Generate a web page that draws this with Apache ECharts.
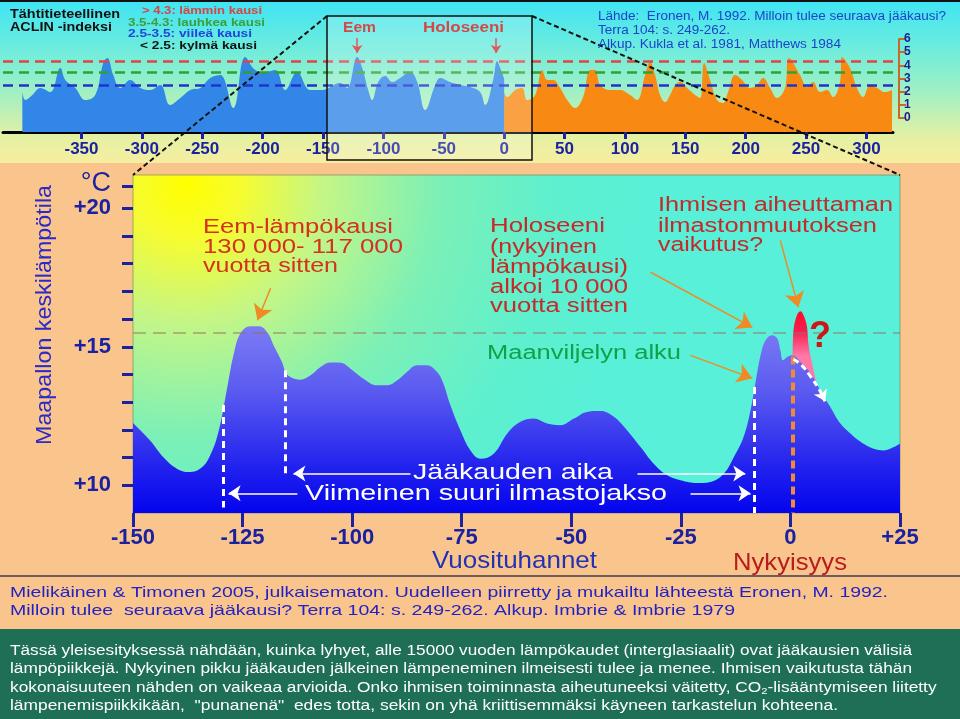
<!DOCTYPE html>
<html><head><meta charset="utf-8">
<script src="https://cdn.jsdelivr.net/npm/echarts@6/dist/echarts.min.js"></script>
<style>html,body{margin:0;padding:0;background:#fac58d}#c{width:960px;height:719px}</style>
</head><body><div id="c"></div>
<script>
// ---------- DATA ----------
// Top panel: ACLIN index, [thousand years, index value]
const topBlueData = [[-399,1.97],[-396.5,1.37],[-390.7,1.75],[-384.1,2.28],[-375.8,1.97],[-367.5,3.8],[-363.4,2.89],[-355.1,2.28],[-346.9,1.37],[-338.6,1.75],[-332,4.18],[-328.6,4.56],[-323.7,3.26],[-317.9,2.28],[-309.6,2.89],[-301.3,2.28],[-293,2.13],[-284.8,2.51],[-276.5,0.99],[-268.2,1.52],[-259.9,2.13],[-251.7,2.28],[-243.4,3.04],[-235.1,3.26],[-224.3,0.76],[-214.4,4.63],[-206.1,3.64],[-197.8,3.49],[-189.6,3.64],[-181.3,2.13],[-171.4,3.49],[-160.6,2.13],[-150.7,2.13],[-135.8,2.66],[-130,2.28],[-121.7,4.63],[-117.5,3.8],[-112.6,2.13],[-109.3,1.37],[-104.3,2.73],[-98.5,3.19],[-92.7,2.73],[-86.1,3.04],[-77.8,3.49],[-72,2.73],[-65.4,0.61],[-57.1,2.51],[-53,3.04],[-44.7,2.73],[-36.4,2.51],[-28.1,2.35],[-19.9,1.97],[-15.7,0.99],[-9.1,2.89],[-5.8,4.33],[-3.3,3.8],[0,3.0]];
const topOrangeData = [[0,1.97],[2.5,1.59],[9.1,2.13],[14.9,2.28],[19,1.37],[25.7,1.75],[31.5,3.64],[35.6,2.89],[40.6,2.89],[46.4,2.28],[52.2,1.37],[58.8,0.76],[65.4,1.59],[71.2,3.64],[75.3,3.64],[79.5,2.51],[87.7,2.13],[96,2.13],[104.3,1.75],[110.1,1.37],[116.7,3.26],[120.9,4.25],[125,3.26],[129.1,1.75],[133.3,1.21],[137.4,1.75],[141.6,2.51],[145.7,2.73],[151.5,2.28],[158.1,1.75],[162.3,1.52],[165.6,4.18],[170.5,2.89],[176.3,1.37],[181.3,1.14],[185.4,1.97],[191.2,3.26],[197,2.89],[203.6,2.28],[209.4,2.51],[214.4,3.04],[220.2,2.28],[226,1.52],[232.6,2.28],[235.9,4.56],[245,3.26],[250.8,2.35],[255.8,2.73],[261.6,1.97],[267.4,2.13],[272.4,1.59],[278.1,2.73],[279.8,4.63],[286.4,3.8],[292.2,2.28],[297.2,1.59],[303,2.51],[308.8,2.28],[315.4,1.97],[321.2,2.13]];
const aclinThresholds = [4.3, 3.5, 2.5];
const topTickValues = [-350,-300,-250,-200,-150,-100,-50,0,50,100,150,200,250,300];
const topPeakArrows = [[-121.7, 6.07, 4.94], [-6.6, 6.07, 4.94]];

// Main panel: global mean temperature, [thousand years, °C]
const mainTempData = [[-150,12.25],[-146,11.6],[-143,11.0],[-140,10.6],[-137.3,10.48],[-134.2,10.66],[-131.9,11.26],[-130.4,12.0],[-129.3,12.83],[-128.2,13.79],[-127,14.75],[-125.5,15.48],[-123.2,15.74],[-121.3,15.74],[-119.4,15.53],[-117.9,15.05],[-116,14.45],[-115.2,14.09],[-114.1,13.91],[-111.8,13.81],[-109.5,13.97],[-107.2,14.27],[-104.9,14.43],[-102.6,14.42],[-100.4,14.21],[-97.4,13.85],[-94.3,13.61],[-92,13.61],[-89.7,13.79],[-87.5,14.09],[-85.2,14.33],[-82.9,14.33],[-81,14.15],[-79.5,13.8],[-77.6,12.9],[-75.3,11.99],[-73,11.26],[-70.7,10.96],[-67.7,11.14],[-64.6,11.87],[-61.6,12.29],[-58.6,12.41],[-55.5,12.23],[-52.5,12.17],[-49.4,12.41],[-46.4,12.65],[-43.3,12.68],[-40.3,12.47],[-37.3,11.99],[-34.2,11.38],[-31.2,10.78],[-28.1,10.36],[-25.1,10.18],[-21.3,10.08],[-18.3,10.12],[-15.2,10.42],[-12.9,11.02],[-10.7,11.74],[-9.1,12.71],[-8,13.67],[-6.8,14.7],[-5.7,15.23],[-4.2,15.42],[-3,15.3],[-2.3,14.87],[-1.7,14.51],[-0.75,14.63],[0.4,14.69],[2.3,14.45],[4.6,14.04],[6.8,13.43],[9.1,12.83],[11.4,12.23],[13.7,11.87],[16,11.57],[19,11.32],[21.3,11.26],[23.6,11.38],[25,11.5]];
const redPeakData = [[0.5,14.6],[0.7,15.6],[1.5,16.15],[2.3,16.28],[3.1,16.1],[3.8,15.7],[4.1,15.1],[4.95,14.4],[6.1,13.6]];
const declineArrowData = [[0.7,14.55],[2.6,14.33],[4.6,13.93],[6.4,13.5],[7.6,13.15]];
const mainXTicks = [-150,-125,-100,-75,-50,-25,0,25];
const mainYTicks = [10,11,12,13,14,15,16,17,18,19,20,20.8];
const mainYLabels = [10,15,20];
const agricultureLevel = 15.5;

// ---------- HELPERS ----------
const F = '"Liberation Sans", Arial, Helvetica, sans-serif';
const NAVY = '#1a22a0';
const mctx = document.createElement('canvas').getContext('2d');
function T(s, x, y, size, fill, targetW, opt) {
  opt = opt || {};
  const font = (opt.bold ? 'bold ' : '') + size + 'px ' + F;
  mctx.font = font;
  const w = mctx.measureText(opt.measure || s).width;
  const sx = targetW ? targetW / w : 1;
  const style = {text: s, font: font, fill: fill, align: opt.align || 'left', verticalAlign: 'middle'};
  if (opt.rich) style.rich = opt.rich;
  return {type: 'text', x: x, y: y, scaleX: sx, rotation: opt.rotation || 0, z: 100, silent: true, style: style};
}
function seg(a, b, ls, endSym, size) {
  return [{coord: a, lineStyle: ls, symbol: 'none'}, {coord: b, lineStyle: ls, symbol: endSym || 'none', symbolSize: size || 10}];
}

const chart = echarts.init(document.getElementById('c'), null, {renderer: 'canvas'});

const whiteV = {color: '#ffffff', width: 3, type: [7, 5], opacity: 1};
const orangeV = {color: '#f08a3a', width: 4, type: [8, 5], opacity: 1};
const whiteA = {color: '#ffffff', width: 1.5, type: 'solid', opacity: 1};
const orA = {color: '#f08a24', width: 1.5, type: 'solid', opacity: 1};
const redA = {color: '#d83030', width: 1.5, type: 'solid', opacity: 1};

const thresholdColors = ['#e04545', '#32a032', '#2233cc'];

const option = {
  animation: false,
  backgroundColor: '#fac58d',
  grid: [
    {left: 3, top: 32.4, width: 890, height: 99.6, show: false},
    {left: 3, top: 39, width: 890, height: 79, show: false},
    {left: 133, top: 175, width: 767, height: 338, show: true, borderWidth: 1, borderColor: 'rgba(100,120,70,0.55)',
      backgroundColor: new echarts.graphic.RadialGradient(0.07, 0.03, 1.35, [
        {offset: 0, color: '#ffff00'}, {offset: 0.12, color: '#f6fc30'}, {offset: 0.3, color: '#c4f686'},
        {offset: 0.55, color: '#7cf0b6'}, {offset: 0.8, color: '#5ef0ce'}, {offset: 1, color: '#58f0d8'}])}
  ],
  xAxis: [
    {gridIndex: 0, type: 'value', min: -415, max: 322, splitLine: {show: false},
      axisLine: {show: true, onZero: false, lineStyle: {color: '#000', width: 3}},
      axisTick: {show: true, customValues: topTickValues, length: 7, lineStyle: {color: NAVY, width: 3}},
      axisLabel: {customValues: topTickValues, color: NAVY, fontWeight: 'bold', fontSize: 17, fontFamily: F, margin: 9}},
    {gridIndex: 1, type: 'value', min: 0, max: 1, show: false},
    {gridIndex: 2, type: 'value', min: -150, max: 25, interval: 25, splitLine: {show: false},
      axisLine: {show: false, onZero: false},
      axisTick: {show: true, customValues: mainXTicks, length: 14, lineStyle: {color: NAVY, width: 3}},
      axisLabel: {customValues: mainXTicks, color: NAVY, fontWeight: 'bold', fontSize: 22, fontFamily: F, margin: 14,
        showMinLabel: true, showMaxLabel: true, formatter: v => (v > 0 ? '+' + v : String(v))}}
  ],
  yAxis: [
    {gridIndex: 0, type: 'value', min: -1.06, max: 6.5, show: false},
    {gridIndex: 1, type: 'value', min: 0, max: 6, interval: 1, position: 'right', offset: 6, splitLine: {show: false},
      axisLine: {show: true, onZero: false, lineStyle: {color: '#c8692c', width: 2}},
      axisTick: {show: true, interval: 0, length: 7, lineStyle: {color: '#c8692c', width: 2}},
      axisLabel: {interval: 0, showMinLabel: true, showMaxLabel: true, hideOverlap: false,
        color: '#1a2090', fontWeight: 'bold', fontSize: 12, lineHeight: 11, fontFamily: F, margin: 5}},
    {gridIndex: 2, type: 'value', min: 9, max: 21.2, splitLine: {show: false},
      axisLine: {show: false, onZero: false},
      axisTick: {show: true, customValues: mainYTicks, length: 11, lineStyle: {color: NAVY, width: 3}},
      axisLabel: {customValues: mainYLabels, margin: 22, color: NAVY, fontSize: 22, fontWeight: 'bold', fontFamily: F,
        formatter: v => '+' + v}}
  ],
  series: [
    {type: 'line', xAxisIndex: 0, yAxisIndex: 0, data: topBlueData, smooth: 0.4, symbol: 'none',
      lineStyle: {width: 0}, areaStyle: {color: '#3186e8', opacity: 1, origin: 'start'}, z: 3,
      markLine: {silent: true, symbol: ['none', 'none'], label: {show: false}, animation: false,
        data: aclinThresholds.map((t, i) => ({yAxis: t, lineStyle: {color: thresholdColors[i], width: 2.5, type: [10, 6], opacity: 1}}))
          .concat(topPeakArrows.map(a => seg([a[0], a[1]], [a[0], a[2]], redA, 'arrow', 8)))}},
    {type: 'line', xAxisIndex: 0, yAxisIndex: 0, data: topOrangeData, smooth: 0.4, symbol: 'none',
      lineStyle: {width: 0}, areaStyle: {color: '#f88a14', opacity: 1, origin: 'start'}, z: 2},
    {type: 'line', xAxisIndex: 2, yAxisIndex: 2, data: redPeakData, smooth: 0.35, symbol: 'none',
      lineStyle: {width: 0}, z: 2,
      areaStyle: {opacity: 1, origin: 'start', color: new echarts.graphic.LinearGradient(0, 0, 0, 1, [
        {offset: 0, color: '#ff0a2a'}, {offset: 0.1, color: '#f42050'}, {offset: 0.22, color: '#ff78a8'}, {offset: 1, color: '#ff78a8'}])}},
    {type: 'line', xAxisIndex: 2, yAxisIndex: 2, data: mainTempData, smooth: 0.4, symbol: 'none',
      lineStyle: {width: 0}, z: 3,
      areaStyle: {opacity: 1, origin: 'start', color: new echarts.graphic.LinearGradient(0, 0, 0, 1, [
        {offset: 0, color: '#7c7cf4'}, {offset: 0.35, color: '#5a5af0'}, {offset: 0.75, color: '#2222ee'}, {offset: 1, color: '#0404ee'}])}},
    {type: 'line', xAxisIndex: 2, yAxisIndex: 2, data: declineArrowData, smooth: 0.4, symbol: 'none', z: 5,
      lineStyle: {color: '#ffffff', width: 3, type: [6, 4]},
      markLine: {silent: true, symbol: ['none', 'none'], label: {show: false}, animation: false,
        data: [
          seg([-150, agricultureLevel], [25, agricultureLevel], {color: 'rgba(150,115,95,0.65)', width: 1.5, type: [13, 7], opacity: 1}),
          seg([-129.4, 12.9], [-129.4, 9.2], whiteV),
          seg([-115.3, 14.15], [-115.3, 10.35], whiteV),
          seg([-8.2, 13.55], [-8.2, 9.0], whiteV),
          seg([0.5, 14.65], [0.5, 9.0], orangeV),
          seg([7.0, 13.33], [7.9, 13.03], {color: '#ffffff', width: 3, type: 'solid', opacity: 1}, 'arrow', 11),
          seg([-86.7, 10.43], [-113.4, 10.43], whiteA, 'arrow', 12),
          seg([-34.9, 10.43], [-10.3, 10.43], whiteA, 'arrow', 12),
          seg([-112.5, 9.71], [-128.2, 9.71], whiteA, 'arrow', 12),
          seg([-22.8, 9.71], [-9.1, 9.71], whiteA, 'arrow', 12),
          seg([-118.6, 17.11], [-121.6, 15.96], orA, 'arrow', 15),
          seg([-31.9, 17.69], [-8.7, 15.70], orA, 'arrow', 15),
          seg([-2.3, 18.84], [1.8, 16.43], orA, 'arrow', 15),
          seg([-22.8, 14.69], [-8.7, 13.86], orA, 'arrow', 15)
        ]}}
  ],
  graphic: [
    {type: 'rect', z: -1, silent: true, shape: {x: 0, y: 0, width: 960, height: 163},
      style: {fill: new echarts.graphic.LinearGradient(0, 0, 0, 1, [
        {offset: 0, color: '#3ee4f4'}, {offset: 0.3, color: '#6eecdc'}, {offset: 0.6, color: '#a8f0c0'},
        {offset: 0.85, color: '#e6f0a2'}, {offset: 1, color: '#f6eea0'}])}},
    {type: 'rect', z: 90, silent: true, shape: {x: 0, y: 0, width: 960, height: 2}, style: {fill: '#111'}},
    {type: 'rect', z: 50, silent: true, shape: {x: 327, y: 16, width: 205, height: 144},
      style: {fill: 'rgba(255,255,255,0.2)', stroke: '#111', lineWidth: 1.5}},
    {type: 'line', z: 60, silent: true, shape: {x1: 327, y1: 16, x2: 133, y2: 175}, style: {stroke: '#111', lineWidth: 2, lineDash: [5, 3]}},
    {type: 'line', z: 60, silent: true, shape: {x1: 532, y1: 16, x2: 900, y2: 175}, style: {stroke: '#111', lineWidth: 2, lineDash: [5, 3]}},
    {type: 'line', z: 60, silent: true, shape: {x1: 0, y1: 576, x2: 960, y2: 576}, style: {stroke: '#6e5c5c', lineWidth: 2}},
    {type: 'rect', z: 1, silent: true, shape: {x: 0, y: 629, width: 960, height: 90}, style: {fill: '#1e6f55'}},

    T('Tähtitieteellinen', 10, 14, 13, '#111', 110, {bold: true}),
    T('ACLIN -indeksi', 10, 27, 13, '#111', 102, {bold: true}),
    T('> 4.3: lämmin kausi', 142, 11, 11, '#d84444', 120, {bold: true}),
    T('3.5-4.3: lauhkea kausi', 128, 23, 11, '#3c9e3c', 137, {bold: true}),
    T('2.5-3.5: viileä kausi', 128, 34, 11, '#2244dd', 124, {bold: true}),
    T('< 2.5: kylmä kausi', 140, 46, 11, '#111111', 117, {bold: true}),
    T('Eem', 359.5, 28, 14, '#d04a4a', 33, {bold: true, align: 'center'}),
    T('Holoseeni', 463.5, 28, 14, '#d04a4a', 81, {bold: true, align: 'center'}),
    T('Lähde:  Eronen, M. 1992. Milloin tulee seuraava jääkausi?', 598, 17, 12, '#1a44cc', 348),
    T('Terra 104: s. 249-262.', 598, 31, 12, '#1a44cc', 132),
    T('Alkup. Kukla et al. 1981, Matthews 1984', 598, 45, 12, '#1a44cc', 243),

    T('Maapallon keskilämpötila', 45, 315, 22, '#2a2ac8', 260, {align: 'center', rotation: Math.PI / 2}),
    T('°C', 111, 184, 27, NAVY, 0, {align: 'right'}),
    T('Eem-lämpökausi', 203, 227, 20, '#d4321c', 190),
    T('130 000- 117 000', 203, 247, 20, '#d4321c', 200),
    T('vuotta sitten', 203, 266, 20, '#d4321c', 135),
    T('Holoseeni', 490, 226, 20, '#c42a2a', 115),
    T('(nykyinen', 490, 247, 20, '#c42a2a', 107),
    T('lämpökausi)', 490, 267, 20, '#c42a2a', 138),
    T('alkoi 10 000', 490, 287, 20, '#c42a2a', 138),
    T('vuotta sitten', 490, 306, 20, '#c42a2a', 138),
    T('Ihmisen aiheuttaman', 658, 205, 20, '#c42a2a', 235),
    T('ilmastonmuutoksen', 658, 226, 20, '#c42a2a', 219),
    T('vaikutus?', 658, 245, 20, '#c42a2a', 105),
    T('Maanviljelyn alku', 487, 353, 20, '#12a048', 194),
    T('?', 820, 337, 36, '#c81818', 0, {bold: true, align: 'center'}),
    T('Jääkauden aika', 413, 473, 22, '#ffffff', 200),
    T('Viimeinen suuri ilmastojakso', 305, 494, 22, '#ffffff', 362),
    T('Vuosituhannet', 432, 561, 24, '#2232b4', 165),
    T('Nykyisyys', 733, 563, 24, '#b81c1c', 114),
    T('Mielikäinen & Timonen 2005, julkaisematon. Uudelleen piirretty ja mukailtu lähteestä Eronen, M. 1992.', 10, 593, 15, '#2222c4', 878),
    T('Milloin tulee  seuraava jääkausi? Terra 104: s. 249-262. Alkup. Imbrie & Imbrie 1979', 10, 611, 15, '#2222c4', 725),

    T('Tässä yleisesityksessä nähdään, kuinka lyhyet, alle 15000 vuoden lämpökaudet (interglasiaalit) ovat jääkausien välisiä', 10, 651, 14, '#ffffff', 902),
    T('lämpöpiikkejä. Nykyinen pikku jääkauden jälkeinen lämpeneminen ilmeisesti tulee ja menee. Ihmisen vaikutusta tähän', 10, 669, 14, '#ffffff', 902),
    T('kokonaisuuteen nähden on vaikeaa arvioida. Onko ihmisen toiminnasta aiheutuneeksi väitetty, CO{s|2}-lisääntymiseen liitetty', 10, 688, 14, '#ffffff', 930,
      {measure: 'kokonaisuuteen nähden on vaikeaa arvioida. Onko ihmisen toiminnasta aiheutuneeksi väitetty, CO2-lisääntymiseen liitetty',
       rich: {s: {fontSize: 9, fontFamily: F, fill: '#ffffff', padding: [7, 0, 0, 0]}}}),
    T('lämpenemispiikkikään,  "punanenä"  edes totta, sekin on yhä kriittisemmäksi käyneen tarkastelun kohteena.', 10, 706, 14, '#ffffff', 828)
  ]
};
chart.setOption(option);
</script>
</body></html>
